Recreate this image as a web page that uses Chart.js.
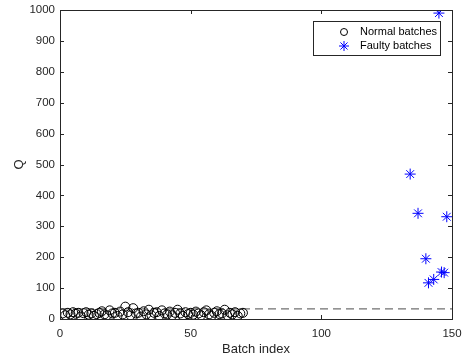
<!DOCTYPE html>
<html>
<head>
<meta charset="utf-8">
<script src="https://cdnjs.cloudflare.com/ajax/libs/Chart.js/4.4.1/chart.umd.min.js"></script>
<style>
  html, body { margin: 0; padding: 0; background: #fff; }
  #wrap { width: 462px; height: 363px; }
</style>
</head>
<body>
<div id="wrap"><canvas id="c" width="462" height="363"></canvas></div>
<script>
// Normal batches: Q value for batch index 1..70
const normalQ = [18, 12, 20, 15, 22, 17, 20, 8, 19, 22, 14, 18, 10, 16, 20, 25, 15, 12, 28, 18,
                 20, 10, 24, 15, 40, 22, 12, 35, 18, 20, 8, 25, 15, 30, 12, 20, 22, 10, 28, 18,
                 15, 24, 12, 20, 30, 18, 10, 22, 16, 20, 14, 24, 18, 12, 22, 28, 15, 10, 20, 25,
                 16, 18, 30, 12, 20, 15, 22, 10, 18, 20];

// Faulty batches
const faultyIdx = [134, 137, 140, 141, 143, 145, 146, 147, 148];
const faultyQ   = [469, 342, 195, 117, 128, 990, 152, 150, 331];

const limitQ = 33;
const xTicks = [0, 50, 100, 150];
const yTicks = [0, 100, 200, 300, 400, 500, 600, 700, 800, 900, 1000];

const FONT = '"Liberation Sans", Arial, sans-serif';
const TXT = '#262626';

const boxPlugin = {
  id: 'box',
  afterDraw(chart) {
    const { ctx, chartArea: a, scales } = chart;
    ctx.save();
    ctx.strokeStyle = '#262626';
    ctx.lineWidth = 1;
    ctx.strokeRect(Math.round(a.left) + 0.5, Math.round(a.top) + 0.5,
                   Math.round(a.right - a.left), Math.round(a.bottom - a.top));
    ctx.beginPath();
    xTicks.forEach(v => {
      const px = Math.round(scales.x.getPixelForValue(v)) + 0.5;
      ctx.moveTo(px, a.bottom); ctx.lineTo(px, a.bottom - 4);
      ctx.moveTo(px, a.top); ctx.lineTo(px, a.top + 4);
    });
    yTicks.forEach(v => {
      const py = Math.round(scales.y.getPixelForValue(v)) + 0.5;
      ctx.moveTo(a.left, py); ctx.lineTo(a.left + 4, py);
      ctx.moveTo(a.right, py); ctx.lineTo(a.right - 4, py);
    });
    ctx.stroke();

    // legend box
    const lx = 313, ly = 21, lw = 127, lh = 34;
    ctx.fillStyle = '#fff';
    ctx.fillRect(lx, ly, lw, lh);
    ctx.strokeStyle = '#262626';
    ctx.strokeRect(lx + 0.5, ly + 0.5, lw, lh);
    ctx.font = '11px ' + FONT;
    ctx.fillStyle = '#000';
    ctx.textBaseline = 'middle';
    ctx.fillText('Normal batches', lx + 47, ly + 11);
    ctx.fillText('Faulty batches', lx + 47, ly + 25);
    ctx.strokeStyle = '#000';
    ctx.beginPath();
    ctx.arc(lx + 31, ly + 11, 3.5, 0, Math.PI * 2);
    ctx.stroke();
    ctx.strokeStyle = '#0000ff';
    ctx.fillStyle = '#0000ff';
    Chart.helpers.drawPoint(ctx, { pointStyle: 'star', radius: 5, borderWidth: 1 }, lx + 31, ly + 25);
    ctx.restore();
  }
};

new Chart(document.getElementById('c'), {
  type: 'scatter',
  data: {
    datasets: [
      {
        label: 'Normal batches',
        data: normalQ.map((q, i) => ({ x: i + 1, y: q })),
        pointStyle: 'circle',
        pointRadius: 4.5,
        borderColor: '#000',
        backgroundColor: 'rgba(0,0,0,0)',
        borderWidth: 1,
        order: 1,
      },
      {
        label: 'Faulty batches',
        data: faultyIdx.map((x, i) => ({ x, y: faultyQ[i] })),
        pointStyle: 'star',
        pointRadius: 5.5,
        borderColor: '#0000ff',
        backgroundColor: '#0000ff',
        borderWidth: 1,
        order: 0,
      },
      {
        label: 'limit',
        type: 'line',
        data: [{ x: 0, y: limitQ }, { x: 150, y: limitQ }],
        borderColor: '#707070',
        borderWidth: 1.2,
        borderDash: [8, 5],
        pointRadius: 0,
        fill: false,
        order: 2,
      },
    ],
  },
  options: {
    responsive: false,
    animation: false,
    layout: { padding: { left: 0, top: 10, right: 10, bottom: 0 } },
    plugins: { legend: { display: false }, tooltip: { enabled: false } },
    scales: {
      x: {
        type: 'linear', min: 0, max: 150,
        afterBuildTicks: s => { s.ticks = xTicks.map(v => ({ value: v })); },
        afterFit: s => { s.height = 44; s.paddingLeft = 0; s.paddingRight = 0; },
        grid: { display: false, drawTicks: false, tickLength: 0 }, border: { display: false },
        ticks: { color: TXT, font: { family: FONT, size: 11.5 }, padding: 8, callback: v => String(v) },
        title: { display: true, text: 'Batch index', color: TXT, font: { family: FONT, size: 13 }, padding: { top: 0, bottom: 6 } },
      },
      y: {
        type: 'linear', min: 0, max: 1000,
        afterBuildTicks: s => { s.ticks = yTicks.map(v => ({ value: v })); },
        afterFit: s => { s.width = 60; s.paddingTop = 0; s.paddingBottom = 0; },
        grid: { display: false, drawTicks: false, tickLength: 0 }, border: { display: false },
        ticks: { color: TXT, font: { family: FONT, size: 11.5 }, padding: 5, callback: v => String(v) },
        title: { display: true, text: 'Q', color: TXT, font: { family: FONT, size: 13 }, padding: { top: 12, bottom: 0 } },
      },
    },
  },
  plugins: [boxPlugin],
});
</script>
</body>
</html>
